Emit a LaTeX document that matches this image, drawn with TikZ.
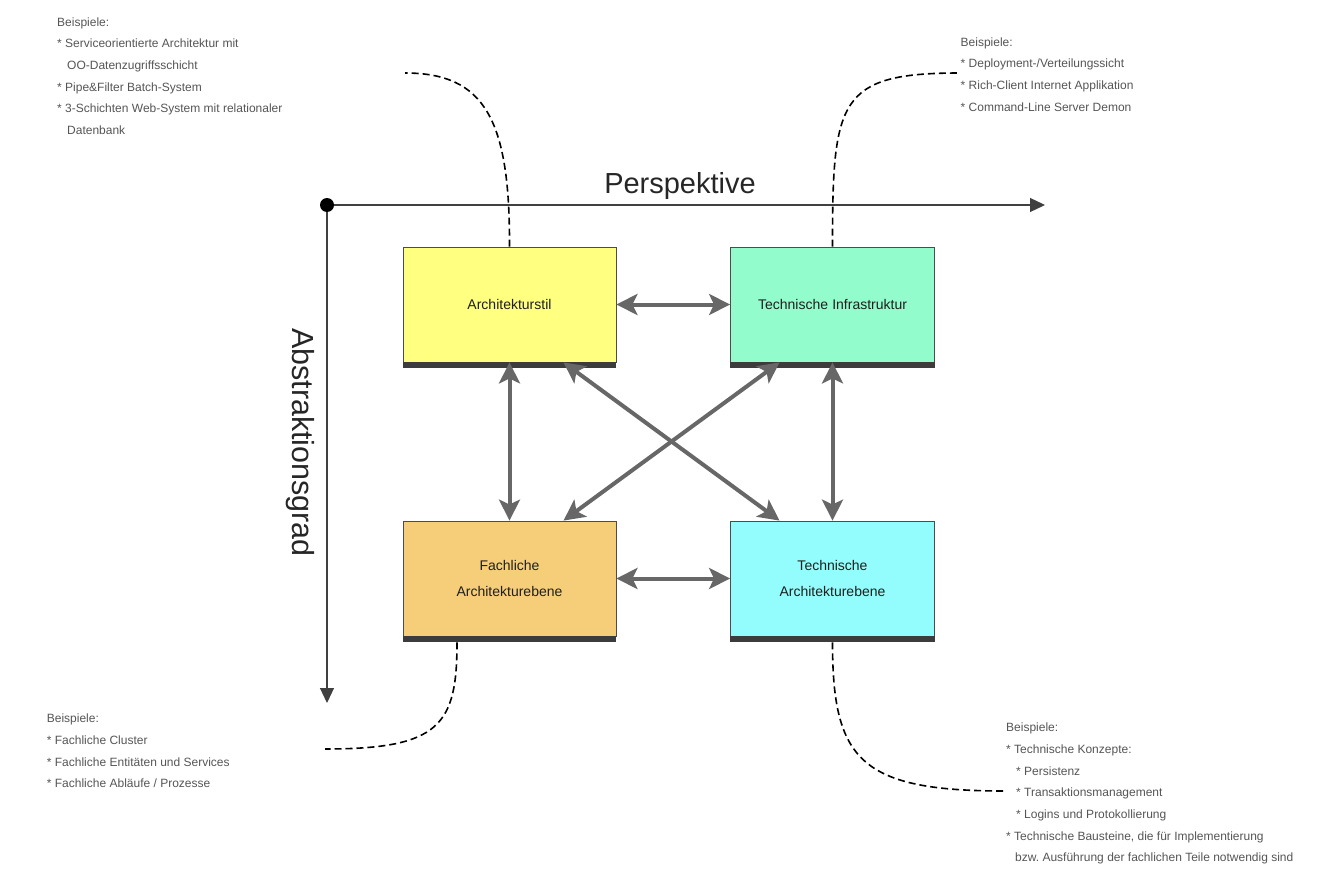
\documentclass[tikz,border=0pt]{standalone}
\usepackage{fontspec}
\setmainfont{Liberation Sans}
\usetikzlibrary{positioning,arrows.meta,calc}

\definecolor{archyellow}{HTML}{FFFF80}
\definecolor{infragreen}{HTML}{93FCCC}
\definecolor{fachorange}{HTML}{F6CE79}
\definecolor{techcyan}{HTML}{93FCFC}
\definecolor{shadowgray}{HTML}{3C3C3C}
\definecolor{arrowgray}{HTML}{676767}
\definecolor{notegray}{HTML}{555555}

\begin{document}
\begin{tikzpicture}[
  x=1pt, y=-1pt,
  layerbox/.style={
    rectangle, draw=black!70, line width=0.8pt, inner sep=0pt,
    minimum width=213pt, minimum height=115pt, align=center,
    text=black!88, font=\fontsize{14}{25.7}\selectfont
  },
  biarrow/.style={{Stealth[length=21pt,width=21pt,inset=5pt]}-{Stealth[length=21pt,width=21pt,inset=5pt]},
    line width=4pt, arrowgray},
  axis/.style={-{Triangle[length=15pt,width=14pt]}, line width=1.2pt, black!75},
  hook/.style={dash pattern=on 7pt off 4pt, line width=1.6pt, black},
  dot/.style={circle, fill=black, minimum size=14pt, inner sep=0pt},
  axislabel/.style={font=\fontsize{29}{32}\selectfont, text=black!85, inner sep=0pt},
  note/.style={anchor=north west, inner sep=0pt, align=left, text=notegray,
    font=\fontsize{12}{21.7}\selectfont}
]
\useasboundingbox (0,0) rectangle (1322,880);

% === Axes ===
\node[dot] (origin) at (327,205) {};
\coordinate (perspend) at (1045,205);
\coordinate (abstrend) at (327,703);
\draw[axis] (origin) -- (perspend);
\draw[axis] (origin) -- (abstrend);
\node[axislabel, anchor=base] (persp) at (680,193) {Perspektive};
\node[axislabel, anchor=base, rotate=-90, font=\fontsize{30.5}{32}\selectfont] (abstr) at (292,442.5) {Abstraktionsgrad};

% === Layer boxes ===
\node[layerbox, fill=archyellow] (arch) at (509.5,304.5) {Architekturstil};
\node[layerbox, fill=infragreen, minimum width=204pt] (infra) at (832.5,304.5) {Technische\hspace{0.3em}Infrastruktur};
\node[layerbox, fill=fachorange] (fach) at (509.5,578.5) {Fachliche\\Architekturebene};
\node[layerbox, fill=techcyan, minimum width=204pt] (tech) at (832.5,578.5) {Technische\\Architekturebene};

% === Box shadows ===
\foreach \n in {arch,infra,fach,tech}
  \fill[shadowgray] (\n.south west) rectangle ([yshift=-6pt]\n.south east);

% === Relations ===
\draw[biarrow] (arch.east) -- (infra.west);
\draw[biarrow] (fach.east) -- (tech.west);
\draw[biarrow] (arch.south) -- (fach.north);
\draw[biarrow] (infra.south) -- (tech.north);
\draw[biarrow] ([xshift=54pt]arch.south) -- ([xshift=-53pt]tech.north);
\draw[biarrow] ([xshift=-53pt]infra.south) -- ([xshift=54pt]fach.north);

% === Example notes ===
\node[note] (archnote) at (57,17.2) {Beispiele:\\
  * Serviceorientierte Architektur mit\\
  \hspace*{10pt}OO-Datenzugriffsschicht\\
  * Pipe\&Filter Batch-System\\
  * 3-Schichten Web-System mit relationaler\\
  \hspace*{10pt}Datenbank};
\node[note] (infranote) at (960.5,37.2) {Beispiele:\\
  * Deployment-/Verteilungssicht\\
  * Rich-Client Internet Applikation\\
  * Command-Line Server Demon};
\node[note] (fachnote) at (46.7,713.8) {Beispiele:\\
  * Fachliche Cluster\\
  * Fachliche Entitäten und Services\\
  * Fachliche Abläufe / Prozesse};
\node[note] (technote) at (1006,722.8) {Beispiele:\\
  * Technische Konzepte:\\
  \hspace*{10pt}* Persistenz\\
  \hspace*{10pt}* Transaktionsmanagement\\
  \hspace*{10pt}* Logins und Protokollierung\\
  * Technische Bausteine, die für Implementierung\\
  \hspace*{9pt}bzw.\ Ausführung der fachlichen Teile notwendig sind};

% === Hooks to the notes ===
\coordinate (archend) at (405,73);
\coordinate (infraend) at (960,73);
\coordinate (fachend) at (325,749);
\coordinate (techend) at (1005,791);
\draw[hook] (arch.north) .. controls (510,120) and (485,73) .. (archend);
\draw[hook] (infra.north) .. controls (832.5,100) and (838,73) .. (infraend);
\draw[hook] ([xshift=-52.5pt,yshift=-6pt]fach.south) .. controls (457,725) and (440,749) .. (fachend);
\draw[hook] ([yshift=-6pt]tech.south) .. controls (832.5,760) and (860,791) .. (techend);

\end{tikzpicture}
\end{document}
